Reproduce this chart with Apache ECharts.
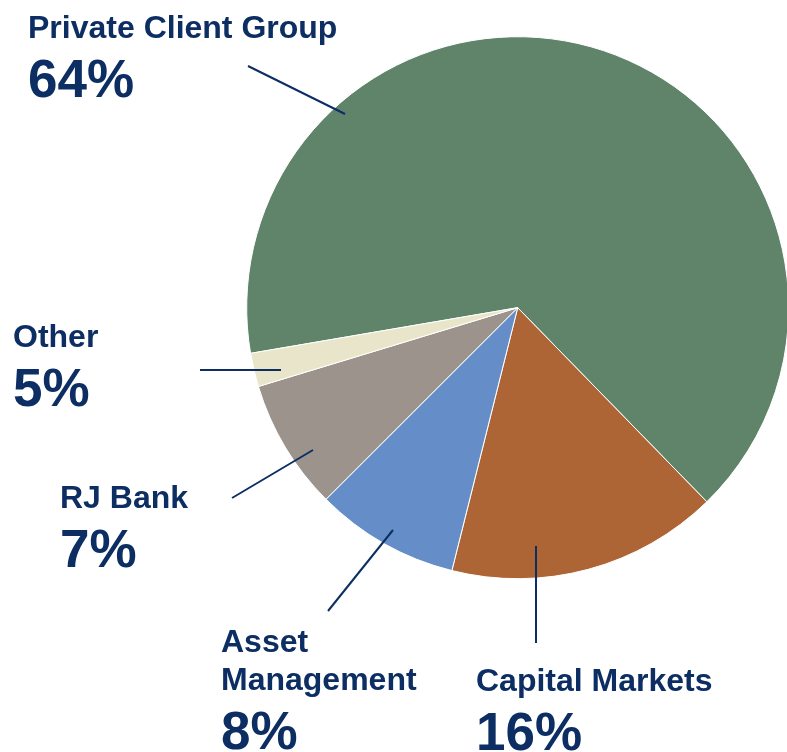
<!DOCTYPE html>
<html>
<head>
<meta charset="utf-8">
<script src="https://cdn.jsdelivr.net/npm/echarts@6/dist/echarts.min.js"></script>
<style>
    html, body { margin: 0; padding: 0; background: #fff; }
    #pieChart { width: 787px; height: 752px; }
</style>
</head>
<body>
<div id="pieChart"></div>
<script>
    // segments, clockwise from the Private Client Group slice
    var segments = ['Private Client Group', 'Capital Markets', 'Asset Management', 'RJ Bank', 'Other'];
    var nameLines = [['Private Client Group'], ['Capital Markets'], ['Asset', 'Management'], ['RJ Bank'], ['Other']];
    // slice sizes as drawn
    var shares = [65.4, 16.2, 8.6, 7.8, 2.0];
    // percentages as printed on the labels
    var pctLabels = ['64%', '16%', '8%', '7%', '5%'];
    var colors = ['#5f846a', '#ad6535', '#658ec8', '#9b938c', '#e9e5cb'];

    // where each label box starts and its leader line
    var labelPos = [[28, 10], [476, 663], [221, 624], [60, 480], [13, 319]];
    var leaders = [
        [[248, 66], [345, 114]],
        [[536, 546], [536, 643]],
        [[393, 530], [328, 611]],
        [[313, 450], [232, 498]],
        [[281, 370], [200, 370]]
    ];

    var navy = '#0c2e63';
    var font = 'Liberation Sans, Arial, sans-serif';
    var chart = echarts.init(document.getElementById('pieChart'));
    chart.setOption({
        animation: false,
        // leader lines sit on top of the slices
        graphic: leaders.map(function (pts) {
            return {
                type: 'polyline',
                z: 100,
                shape: { points: pts },
                style: { stroke: navy, lineWidth: 2 }
            };
        }),
        series: [{
            type: 'pie',
            center: [517.7, 307.7],
            radius: 271,
            startAngle: 189.7,
            clockwise: true,
            avoidLabelOverlap: false,
            itemStyle: {
                borderColor: '#ffffff',
                borderWidth: 1
            },
            label: {
                show: true,
                formatter: function (p) {
                    var i = p.dataIndex;
                    var lines = nameLines[i].map(function (s) { return '{n|' + s + '}'; });
                    lines.push('{p|' + pctLabels[i] + '}');
                    return lines.join('\n');
                },
                rich: {
                    n: {
                        fontFamily: font,
                        fontWeight: 'bold',
                        fontSize: 32,
                        lineHeight: 38,
                        color: navy
                    },
                    p: {
                        fontFamily: font,
                        fontWeight: 'bold',
                        fontSize: 53,
                        lineHeight: 68,
                        color: navy
                    }
                }
            },
            labelLine: { show: false },
            labelLayout: function (params) {
                var i = params.dataIndex;
                return {
                    x: labelPos[i][0],
                    y: labelPos[i][1],
                    align: 'left',
                    verticalAlign: 'top'
                };
            },
            data: segments.map(function (name, i) {
                return { name: name, value: shares[i], itemStyle: { color: colors[i] } };
            })
        }]
    });
</script>
</body>
</html>
